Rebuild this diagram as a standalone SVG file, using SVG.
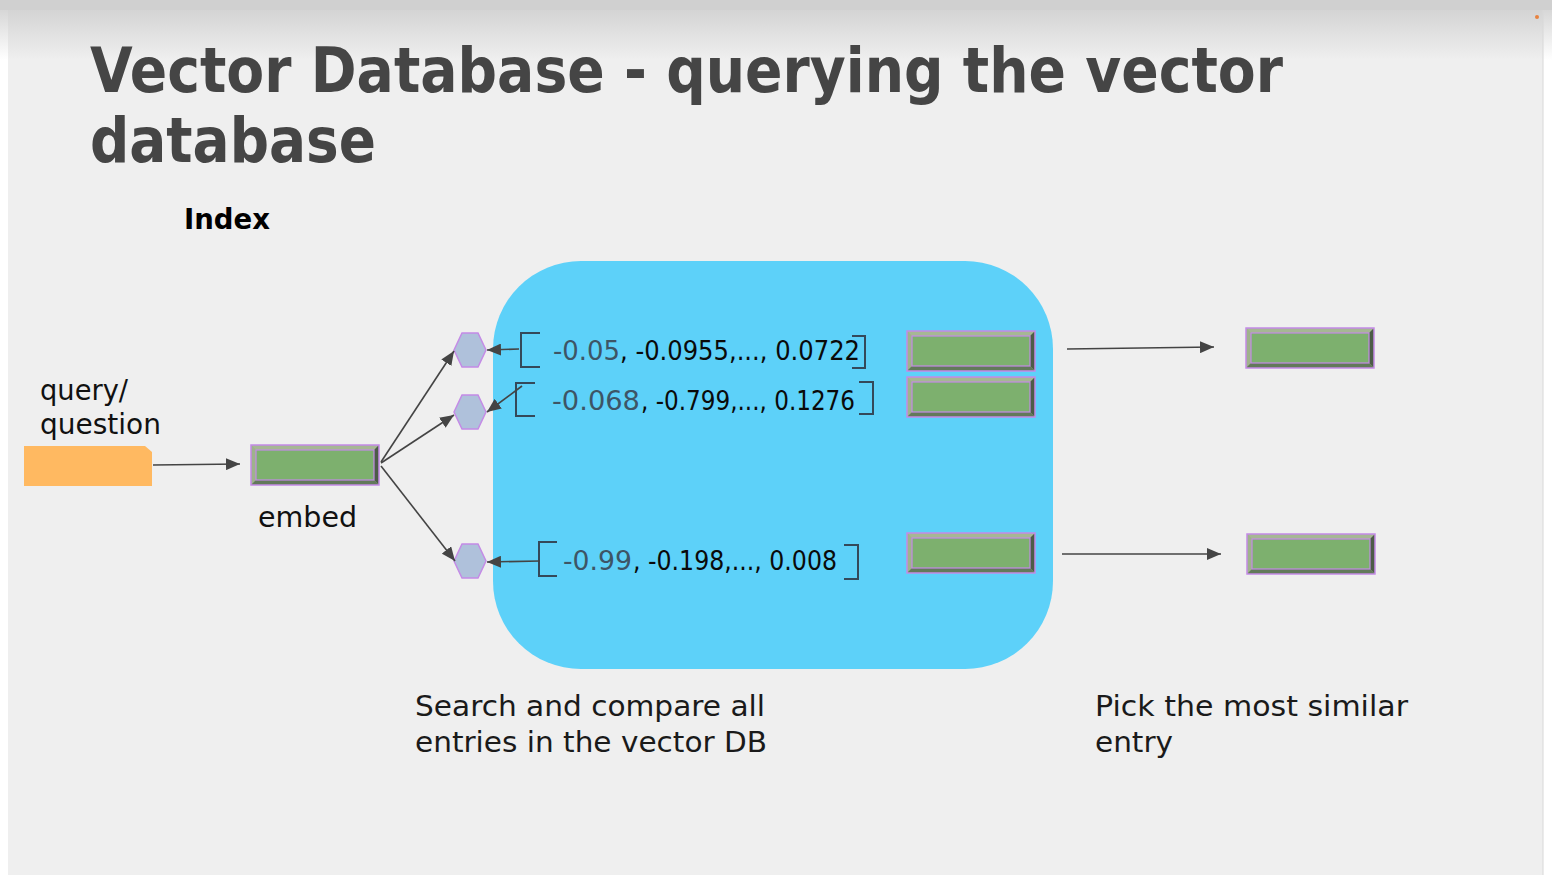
<svg xmlns="http://www.w3.org/2000/svg" width="1552" height="883" viewBox="0 0 1552 883">
<defs>
  <linearGradient id="topShade" x1="0" y1="0" x2="0" y2="1">
    <stop offset="0" stop-color="#d4d4d4"/>
    <stop offset="1" stop-color="#efefef"/>
  </linearGradient>
  <linearGradient id="outerShade" x1="0" y1="0" x2="0" y2="1">
    <stop offset="0" stop-color="#cfcfcf"/>
    <stop offset="1" stop-color="#ffffff"/>
  </linearGradient>
  <marker id="arrow" markerUnits="userSpaceOnUse" markerWidth="14" markerHeight="12" viewBox="0 0 14 12" refX="14" refY="6" orient="auto">
    <path d="M0,0 L14,6 L0,12 Z" fill="#444444"/>
  </marker>
  <g id="bevel">
    <rect x="0" y="0" width="128" height="40" fill="#9db08b"/>
    <polygon points="0,0 128,0 123,5 5,5" fill="#a6b794"/>
    <polygon points="0,0 5,5 5,35 0,40" fill="#9fb28c"/>
    <polygon points="128,0 128,40 123,35 123,5" fill="#4c5c47"/>
    <polygon points="0,40 128,40 123,35 5,35" fill="#62795a"/>
    <rect x="0" y="0" width="128" height="40" fill="none" stroke="#c48be6" stroke-width="1.5"/>
    <rect x="5" y="5" width="118" height="30" fill="#7db06e" stroke="#c48be6" stroke-width="1.2"/>
  </g>
</defs>
<style>
  .title { font-family: "DejaVu Sans", "Liberation Sans", sans-serif; font-weight: bold; font-size: 62px; fill: #454545; }
  .label { font-family: "DejaVu Sans", "Liberation Sans", sans-serif; font-size: 28px; fill: #111111; }
  .caption { font-family: "DejaVu Sans", "Liberation Sans", sans-serif; font-size: 29px; fill: #1a1a1a; }
  .vec { font-family: "DejaVu Sans", "Liberation Sans", sans-serif; font-size: 27px; fill: #0a0a0a; }
  .vec-first { font-family: "DejaVu Sans", "Liberation Sans", sans-serif; font-size: 27px; fill: #3d5566; }
  .hex { fill: #afc1db; stroke: #c48be6; stroke-width: 1.5; }
  .bracket { fill: none; stroke: #34495a; stroke-width: 2; }
  .conn { fill: none; stroke: #444444; stroke-width: 1.6; marker-end: url(#arrow); }
</style>

<!-- page background -->
<rect x="0" y="0" width="1552" height="883" fill="#ffffff"/>
<rect x="0" y="0" width="1552" height="60" fill="url(#outerShade)"/>
<rect x="0" y="0" width="1552" height="10" fill="#d0d0d0"/>
<rect x="8" y="10" width="1535" height="865" fill="#efefef"/>
<rect x="8" y="10" width="1535" height="50" fill="url(#topShade)"/>
<line x1="1543" y1="10" x2="1543" y2="875" stroke="#d8d8d8" stroke-width="1"/>
<circle cx="1537" cy="17" r="2" fill="#e8823f"/>

<!-- title -->
<g id="title">
  <text class="title" x="90" y="92" textLength="1193" lengthAdjust="spacingAndGlyphs">Vector Database - querying the vector</text>
  <text class="title" x="90" y="162" textLength="286" lengthAdjust="spacingAndGlyphs">database</text>
</g>
<g id="index-label">
  <text x="184" y="229" font-family="DejaVu Sans, Liberation Sans, sans-serif" font-weight="bold" font-size="28" fill="#000000" textLength="86" lengthAdjust="spacingAndGlyphs">Index</text>
</g>

<!-- vector DB container -->
<g id="vector-db">
  <rect x="493" y="261" width="560" height="408" rx="88" ry="88" fill="#5dd1f9"/>
</g>

<!-- query -->
<g id="query">
  <text class="label" x="40" y="400" textLength="88" lengthAdjust="spacingAndGlyphs">query/</text>
  <text class="label" x="40" y="434" textLength="121" lengthAdjust="spacingAndGlyphs">question</text>
  <polygon points="24,446 145,446 152,452 152,486 24,486" fill="#ffb961"/>
</g>

<!-- embed -->
<g id="embed">
  <use href="#bevel" x="251" y="445"/>
  <text class="label" x="258" y="527" textLength="99" lengthAdjust="spacingAndGlyphs">embed</text>
</g>

<!-- hexagons -->
<g id="hex1"><polygon class="hex" points="454,350 462,333 478,333 486,350 478,367 462,367"/></g>
<g id="hex2"><polygon class="hex" points="454,412 462,395 478,395 486,412 478,429 462,429"/></g>
<g id="hex3"><polygon class="hex" points="454,561 462,544 478,544 486,561 478,578 462,578"/></g>

<!-- vectors -->
<g id="vector1">
  <path class="bracket" d="M540,333 L521,333 L521,367 L540,367"/>
  <path class="bracket" d="M852,336 L865,336 L865,368 L852,368"/>
  <text class="vec-first" x="553" y="360" textLength="67" lengthAdjust="spacingAndGlyphs">-0.05</text>
  <text class="vec" x="620" y="360" textLength="240" lengthAdjust="spacingAndGlyphs">, -0.0955,..., 0.0722</text>
</g>
<g id="vector2">
  <path class="bracket" d="M535,383 L516,383 L516,416 L535,416"/>
  <path class="bracket" d="M859,382 L873,382 L873,414 L859,414"/>
  <text class="vec-first" x="552" y="410" textLength="88" lengthAdjust="spacingAndGlyphs">-0.068</text>
  <text class="vec" x="641" y="410" textLength="214" lengthAdjust="spacingAndGlyphs">, -0.799,..., 0.1276</text>
</g>
<g id="vector3">
  <path class="bracket" d="M557,542 L539,542 L539,576 L557,576"/>
  <path class="bracket" d="M844,545 L858,545 L858,579 L844,579"/>
  <text class="vec-first" x="563" y="570" textLength="69" lengthAdjust="spacingAndGlyphs">-0.99</text>
  <text class="vec" x="633" y="570" textLength="204" lengthAdjust="spacingAndGlyphs">, -0.198,..., 0.008</text>
</g>

<!-- stored entries -->
<g id="entry1"><use href="#bevel" x="907" y="331"/></g>
<g id="entry2"><use href="#bevel" x="907" y="377"/></g>
<g id="entry3"><use href="#bevel" x="907" y="533"/></g>

<!-- results -->
<g id="result1"><use href="#bevel" x="1246" y="328"/></g>
<g id="result2"><use href="#bevel" x="1247" y="534"/></g>

<!-- captions -->
<g id="caption-search">
  <text class="caption" x="415" y="716" textLength="350" lengthAdjust="spacingAndGlyphs">Search and compare all</text>
  <text class="caption" x="415" y="752" textLength="352" lengthAdjust="spacingAndGlyphs">entries in the vector DB</text>
</g>
<g id="caption-pick">
  <text class="caption" x="1095" y="716" textLength="313" lengthAdjust="spacingAndGlyphs">Pick the most similar</text>
  <text class="caption" x="1095" y="752" textLength="78" lengthAdjust="spacingAndGlyphs">entry</text>
</g>

<!-- connectors -->
<g id="connectors">
  <path class="conn" d="M153,465 L240,464"/>
  <path class="conn" d="M381,462 L454,351"/>
  <path class="conn" d="M381,463 L454,415"/>
  <path class="conn" d="M381,466 L455,561"/>
  <path class="conn" d="M519,349 L487,350"/>
  <path class="conn" d="M522,386 L487,412"/>
  <path class="conn" d="M540,561 L487,562"/>
  <path class="conn" d="M1067,349 L1214,347"/>
  <path class="conn" d="M1062,554 L1221,554"/>
</g>
</svg>
